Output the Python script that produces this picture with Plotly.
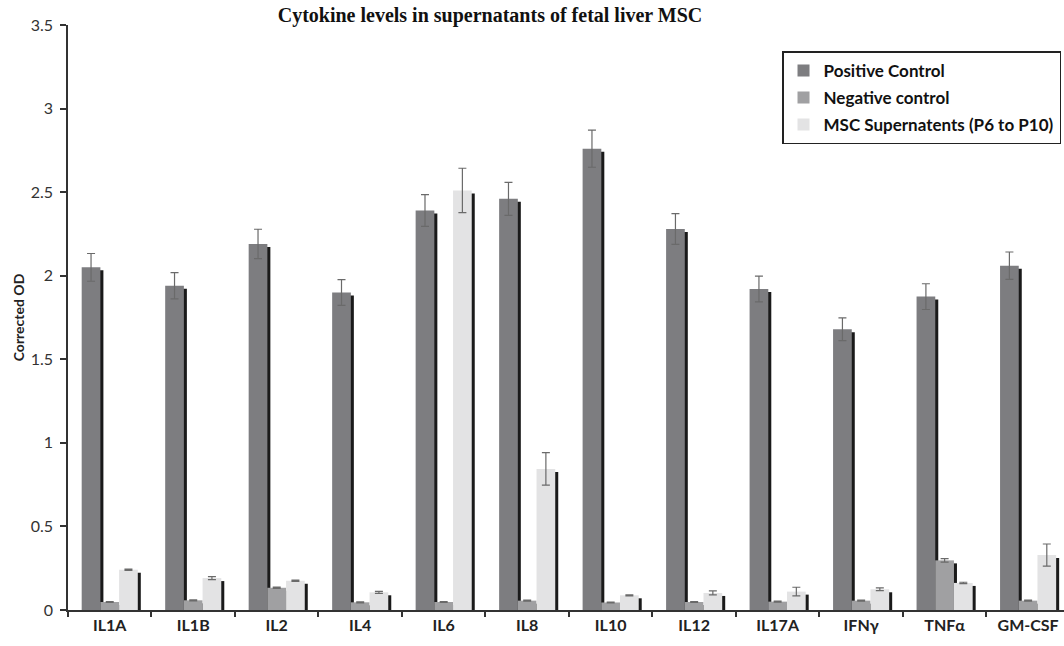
import plotly.graph_objects as go

categories = ["IL1A", "IL1B", "IL2", "IL4", "IL6", "IL8", "IL10", "IL12", "IL17A", "IFNγ", "TNFα", "GM-CSF"]

positive = [2.05, 1.94, 2.19, 1.90, 2.39, 2.46, 2.76, 2.28, 1.92, 1.68, 1.875, 2.06]
positive_err = [0.083, 0.079, 0.088, 0.077, 0.095, 0.099, 0.111, 0.092, 0.077, 0.068, 0.077, 0.082]

negative = [0.048, 0.058, 0.133, 0.046, 0.048, 0.056, 0.045, 0.048, 0.05, 0.056, 0.297, 0.056]
negative_err = [0.003, 0.003, 0.004, 0.003, 0.003, 0.003, 0.003, 0.003, 0.003, 0.003, 0.01, 0.003]

msc = [0.241, 0.191, 0.175, 0.106, 2.51, 0.844, 0.088, 0.102, 0.110, 0.124, 0.162, 0.329]
msc_err = [0.004, 0.009, 0.004, 0.006, 0.133, 0.097, 0.003, 0.012, 0.026, 0.008, 0.004, 0.066]

series_names = ["Positive Control", "Negative control", "MSC Supernatents (P6 to P10)"]

# style
colors = ["#7d7d80", "#a0a0a2", "#e3e3e4"]
BAR_W = 0.224
SHADOW_DX = 0.036
SHADOW_DY = 0.018
FONT = "Lato"

W, H = 1064, 646

fig = go.Figure()
series = [(positive, positive_err), (negative, negative_err), (msc, msc_err)]

# shadows first
for i, (vals, errs) in enumerate(series):
    off = (i - 1.5) * BAR_W
    fig.add_trace(go.Bar(
        x=categories, y=[max(v - SHADOW_DY, 0) for v in vals],
        width=BAR_W, offset=off + SHADOW_DX,
        marker=dict(color="#1a1a1a", line=dict(width=0)),
        showlegend=False, hoverinfo="skip", legendgroup=f"g{i}",
    ))

for i, (vals, errs) in enumerate(series):
    off = (i - 1.5) * BAR_W
    fig.add_trace(go.Bar(
        x=categories, y=vals, name=series_names[i],
        width=BAR_W, offset=off,
        marker=dict(color=colors[i], line=dict(width=0)),
        error_y=dict(type="data", array=errs, color="#6a6a6a", thickness=1.2, width=4),
        legendgroup=f"g{i}",
    ))

fig.update_layout(
    width=W, height=H,
    barmode="overlay",
    plot_bgcolor="white", paper_bgcolor="white",
    margin=dict(l=68, r=0, t=25, b=36),
    title=dict(text="<b>Cytokine levels in supernatants of fetal liver MSC</b>",
               font=dict(family="Liberation Serif", size=20, color="#111"),
               x=490 / W, xanchor="center", y=1 - 15 / H, yanchor="middle", yref="container"),
    legend=dict(x=0.997, xanchor="right", y=0.955, yanchor="top",
                bordercolor="#222", borderwidth=1.5, bgcolor="white",
                font=dict(family=FONT, size=17, color="#111", weight="bold"),
                tracegroupgap=2, itemwidth=30),
    font=dict(family=FONT),
)

fig.update_xaxes(
    range=[-0.5, 11.43], showline=True, linecolor="#333", linewidth=1.5,
    ticks="outside", tickson="boundaries", ticklen=5, tickcolor="#333", tickwidth=1.5,
    tickfont=dict(family=FONT, size=16, color="#222", weight="bold"),
    showgrid=False,
)
fig.update_yaxes(
    range=[0, 3.5], dtick=0.5, showline=True, linecolor="#333", linewidth=1.5,
    ticks="outside", ticklen=6, tickcolor="#333", tickwidth=1.5,
    tickfont=dict(family=FONT, size=16, color="#333"), ticklabelstandoff=4,
    showgrid=False, zeroline=False,
    title=dict(text="<b>Corrected OD</b>", font=dict(family=FONT, size=14, color="#222"), standoff=3),
)

fig.write_html("out.html", config={"displayModeBar": False},
               post_script="document.body.style.margin='0';")
